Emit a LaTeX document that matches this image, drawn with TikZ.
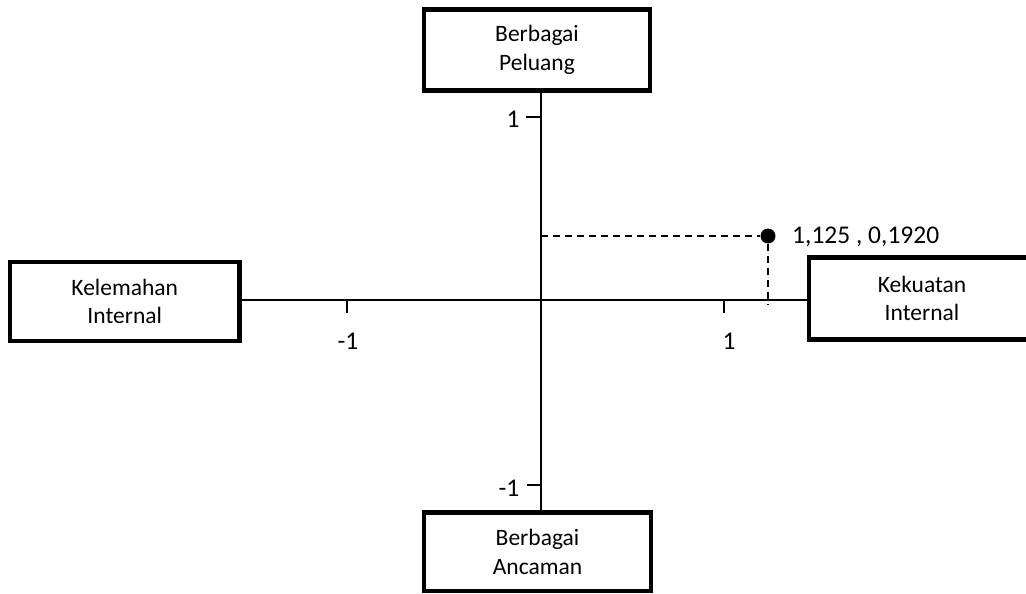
\documentclass[tikz,border=0pt]{standalone}
\usepackage{fontspec}
\setmainfont{Carlito}
\begin{document}
\begin{tikzpicture}[x=1pt,y=-1pt,
  box/.style={draw=black,line width=4.5pt,align=center,inner sep=0pt,
    font=\fontsize{23.5}{28.5}\selectfont},
  axis/.style={line width=2pt},
  tick/.style={line width=2pt},
  lbl/.style={font=\fontsize{25.5}{30}\selectfont,inner sep=0pt},
  guide/.style={line width=2pt,dash pattern=on 7pt off 5pt}]
\useasboundingbox (0,0) rectangle (1026,594);
\begin{scope}
\clip (0,0) rectangle (1026,594);
\node[box,minimum width=226pt,minimum height=81pt] (top) at (537,50) {Berbagai\\Peluang};
\node[box,minimum width=227pt,minimum height=78.5pt] (bot) at (537.5,551.75) {Berbagai\\Ancaman};
\node[box,minimum width=229.5pt,minimum height=79pt] (lft) at (124.75,301.5) {Kelemahan\\Internal};
\node[box,minimum width=226pt,minimum height=82pt] (rgt) at (922,298.5) {Kekuatan\\Internal};
\coordinate (O) at (541,300);
\draw[axis] (O |- top.south) -- (O |- bot.north);
\draw[axis] (lft.east |- O) -- (rgt.west |- O);
% ticks
\coordinate (ty1) at (541,117);
\coordinate (ty1l) at (526,117);
\coordinate (tym) at (541,485);
\coordinate (tyml) at (527,485);
\coordinate (txm) at (347,300);
\coordinate (txmd) at (347,313);
\coordinate (tx1) at (724,300);
\coordinate (tx1d) at (724,313);
\draw[tick] (ty1l) -- (ty1);
\draw[tick] (tyml) -- (tym);
\draw[tick] (txm) -- (txmd);
\draw[tick] (tx1) -- (tx1d);
\node[lbl] (l1) at (513,119) {1};
\node[lbl] (lm1) at (509,488) {-1};
\node[lbl] (lxm) at (348,341) {-1};
\node[lbl] (lx1) at (729,341) {1};
% point
\node[circle,fill=black,inner sep=0pt,minimum size=15pt] (pt) at (768,236) {};
\coordinate (vend) at (768,304);
\draw[guide] (O |- pt) -- (pt.west);
\draw[guide] (pt.south) -- (vend);
\node[lbl,anchor=west] (ptl) at (792,237) {1,125 , 0,1920};
\end{scope}
\end{tikzpicture}
\end{document}
